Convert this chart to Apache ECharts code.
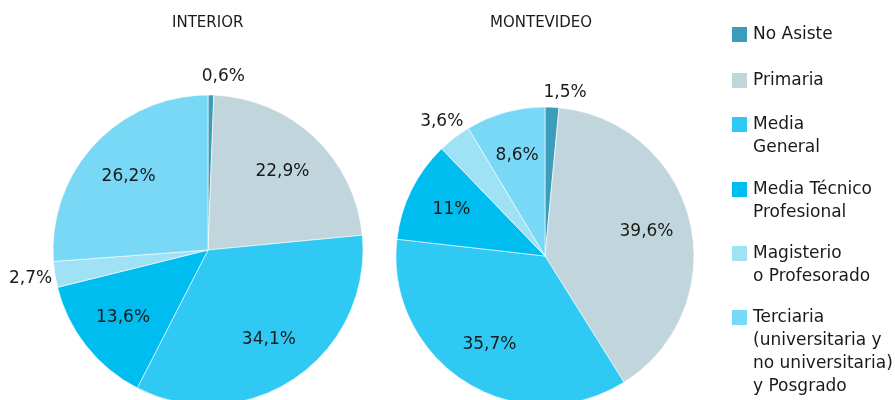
<!DOCTYPE html>
<html>
<head>
<meta charset="utf-8">
<script src="https://cdn.jsdelivr.net/npm/echarts@6/dist/echarts.min.js"></script>
<style>
  html, body { margin: 0; padding: 0; background: #fff; }
  #chart { width: 895px; height: 400px; }
</style>
</head>
<body>
<div id="chart"></div>
<script>
// categorias (orden horario desde arriba)
const categories = [
  'No Asiste',
  'Primaria',
  'Media General',
  'Media Técnico Profesional',
  'Magisterio o Profesorado',
  'Terciaria (universitaria y no universitaria) y Posgrado'
];
const legendLines = [
  ['No Asiste'],
  ['Primaria'],
  ['Media', 'General'],
  ['Media Técnico', 'Profesional'],
  ['Magisterio', 'o Profesorado'],
  ['Terciaria', '(universitaria y', 'no universitaria)', 'y Posgrado']
];
const interiorValues = [0.6, 22.9, 34.1, 13.6, 2.7, 26.2];
const montevideoValues = [1.5, 39.6, 35.7, 11, 3.6, 8.6];
const colors = ['#3b9dba', '#c1d6dc', '#2fc9f4', '#00bdf0', '#a0e2f5', '#78d8f5'];

const chart = echarts.init(document.getElementById('chart'));
const font = 'DejaVu Sans';

function fmt(v) {
  return String(v).replace('.', ',') + '%';
}

// torta + dos series transparentes solo para ubicar etiquetas
function pieSeries(values, center, r, outerFactor) {
  const base = {
    type: 'pie',
    center: center,
    startAngle: 90,
    clockwise: true,
    silent: true,
    emphasis: { disabled: true },
    labelLine: { show: false }
  };
  const main = Object.assign({}, base, {
    radius: r,
    label: { show: false },
    itemStyle: { borderColor: '#fff', borderWidth: 0.6 },
    data: categories.map((n, i) => ({ name: n, value: values[i], itemStyle: { color: colors[i] } }))
  });
  const labelStyle = {
    position: 'inside',
    color: '#1a1a1a',
    fontFamily: font,
    fontSize: 17,
    formatter: p => fmt(p.value)
  };
  const inner = Object.assign({}, base, {
    radius: r * 1.36,
    itemStyle: { color: 'transparent' },
    label: labelStyle,
    data: categories.map((n, i) => ({ name: n, value: values[i], label: { show: values[i] >= 5 } }))
  });
  const outer = Object.assign({}, base, {
    radius: r * outerFactor,
    itemStyle: { color: 'transparent' },
    label: labelStyle,
    // la etiqueta de la porcion superior va a la derecha de la franja
    labelLayout: p => (p.dataIndex === 0 ? { dx: 12, dy: 6 } : {}),
    data: categories.map((n, i) => ({ name: n, value: values[i], label: { show: values[i] < 5 } }))
  });
  return [main, inner, outer];
}

const iconTops = [26, 72, 116, 181, 245, 309];

chart.setOption({
  animation: false,
  title: [
    { text: 'INTERIOR', left: 172, top: 16, padding: 0,
      textStyle: { fontFamily: font, fontSize: 15, fontWeight: 'normal', color: '#1a1a1a' } },
    { text: 'MONTEVIDEO', left: 490, top: 16, padding: 0,
      textStyle: { fontFamily: font, fontSize: 15, fontWeight: 'normal', color: '#1a1a1a' } }
  ],
  legend: legendLines.map((lines, i) => ({
    data: [categories[i]],
    orient: 'vertical',
    left: 730,
    top: iconTops[i] - 11.5 * (2 * lines.length - 1) + 8.5,
    padding: 0,
    itemWidth: 17,
    itemHeight: 17,
    icon: 'rect',
    selectedMode: false,
    formatter: () => '\n'.repeat(lines.length - 1) + lines.join('\n'),
    textStyle: { fontFamily: font, fontSize: 17, lineHeight: 23, color: '#1a1a1a' }
  })),
  series: [
    ...pieSeries(interiorValues, [208, 250], 155, 2.28),
    ...pieSeries(montevideoValues, [545, 256], 149, 2.24)
  ]
});
</script>
</body>
</html>
